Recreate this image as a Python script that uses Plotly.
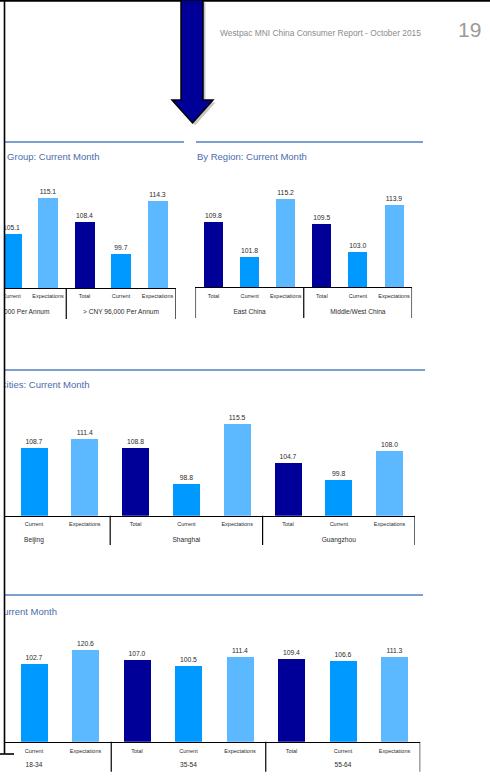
import plotly.graph_objects as go

W, H = 490, 779

# ---------------- data ----------------
income_title = "By Income Group: Current Month"
income_categories = ["Total", "Current", "Expectations", "Total", "Current", "Expectations"]
income_values = [None, 105.1, 115.1, 108.4, 99.7, 114.3]
income_groups = ["< CNY 96,000 Per Annum", "> CNY 96,000 Per Annum"]

region_title = "By Region: Current Month"
region_categories = ["Total", "Current", "Expectations", "Total", "Current", "Expectations"]
region_values = [109.8, 101.8, 115.2, 109.5, 103.0, 113.9]
region_groups = ["East China", "Middle/West China"]

city_title = "By Tier 1 Cities: Current Month"
city_categories = ["Total", "Current", "Expectations"] * 3
city_values = [None, 108.7, 111.4, 108.8, 98.8, 115.5, 104.7, 99.8, 108.0]
city_groups = ["Beijing", "Shanghai", "Guangzhou"]

age_title = "By Age Group: Current Month"
age_categories = ["Total", "Current", "Expectations"] * 3
age_values = [None, 102.7, 120.6, 107.0, 100.5, 111.4, 109.4, 106.6, 111.3]
age_groups = ["18-34", "35-54", "55-64"]

header_text = "Westpac MNI China Consumer Report - October 2015"
page_number = "19"

# ---------------- styles ----------------
COLORS = {"Total": "#000099", "Current": "#0099FF", "Expectations": "#5CB8FF"}
NARROW = "Liberation Sans Narrow, Arial Narrow, Liberation Sans, sans-serif"
SANS = "Liberation Sans, Arial, sans-serif"
TITLE_COLOR = "#4a6cad"
RULE_COLOR = "#4f7fbf"
LABEL_COLOR = "#2b2b2b"


def fx(x):
    return x / W


def fy(y):
    return 1 - y / H


# pixel layout of each panel
panels = [
    dict(cats=income_categories, vals=income_values, groups=income_groups, title=income_title,
         c0=-25.0, step=36.5, left=5, right=175.75, base=288, top=172, ymin=90.4, scale=3.64,
         bar_w=20, rule=(5, 184, 142), title_y=158, title_px=99.5, title_side="end",
         tick_y=297, group_y=312.5, sep_bottom=319, text_top=148, text_bottom=322),
    dict(cats=region_categories, vals=region_values, groups=region_groups, title=region_title,
         c0=213.5, step=36.1, left=195.45, right=412.05, base=287, top=172, ymin=94.9, scale=4.33,
         bar_w=19, rule=(196, 423, 142), title_y=158, title_px=197, title_side="start",
         tick_y=297, group_y=312, sep_bottom=318, text_top=148, text_bottom=322),
    dict(cats=city_categories, vals=city_values, groups=city_groups, title=city_title,
         c0=-16.8, step=50.8, left=5, right=415, base=515.7, top=400, ymin=89.9, scale=3.575,
         bar_w=27, rule=(5, 425, 370), title_y=386, title_px=89.5, title_side="end",
         tick_y=524.3, group_y=540, sep_bottom=545, text_top=376, text_bottom=550),
    dict(cats=age_categories, vals=age_values, groups=age_groups, title=age_title,
         c0=-17.5, step=51.5, left=5, right=420.25, base=741.7, top=625, ymin=3.0, scale=0.781,
         bar_w=27, rule=(5, 423, 595), title_y=613, title_px=57, title_side="end",
         tick_y=751.7, group_y=765.7, sep_bottom=771.7, text_top=603, text_bottom=779),
]

fig = go.Figure()
layout = dict(
    width=W, height=H, margin=dict(l=0, r=0, t=0, b=0),
    paper_bgcolor="white", plot_bgcolor="rgba(0,0,0,0)", showlegend=False,
    bargap=0, font=dict(family=NARROW, color=LABEL_COLOR),
)
shapes = []
annotations = []

for k, p in enumerate(panels):
    n = len(p["cats"])
    ax = 2 * k + 1
    lx = 2 * k + 2
    xr = [(p["left"] - p["c0"]) / p["step"], (p["right"] - p["c0"]) / p["step"]]
    dom_x = [fx(p["left"]), fx(p["right"])]
    ymax = p["ymin"] + (p["base"] - p["top"]) / p["scale"]
    layout[f"xaxis{ax}"] = dict(domain=dom_x, range=xr, anchor=f"y{ax}", showline=True,
                                linecolor="black", linewidth=1.3, showgrid=False, zeroline=False,
                                showticklabels=False, ticks="", fixedrange=True)
    layout[f"yaxis{ax}"] = dict(domain=[fy(p["base"]), fy(p["top"])], range=[p["ymin"], ymax],
                                anchor=f"x{ax}", visible=False, fixedrange=True)
    layout[f"xaxis{lx}"] = dict(domain=dom_x, range=xr, anchor=f"y{lx}", visible=False, fixedrange=True)
    layout[f"yaxis{lx}"] = dict(domain=[fy(p["text_bottom"]), fy(p["text_top"])],
                                range=[p["text_bottom"], p["text_top"]], anchor=f"x{lx}",
                                visible=False, fixedrange=True)
    idx = list(range(n))
    fig.add_trace(go.Bar(
        x=idx, y=p["vals"], xaxis=f"x{ax}", yaxis=f"y{ax}",
        width=p["bar_w"] / p["step"],
        marker=dict(color=[COLORS[c] for c in p["cats"]], line=dict(width=0)),
        text=[("" if v is None else f"{v:.1f}") for v in p["vals"]],
        textposition="outside", cliponaxis=True,
        textfont=dict(family=NARROW, size=6.8, color=LABEL_COLOR),
        hoverinfo="skip",
    ))
    # category tick labels
    fig.add_trace(go.Scatter(
        x=idx, y=[p["tick_y"]] * n, text=p["cats"], mode="text", textposition="middle center",
        xaxis=f"x{lx}", yaxis=f"y{lx}", cliponaxis=True, hoverinfo="skip",
        textfont=dict(family=NARROW, size=5.5, color=LABEL_COLOR),
    ))
    # group labels
    gsize = n // len(p["groups"])
    gx = [g * gsize + (gsize - 1) / 2 for g in range(len(p["groups"]))]
    fig.add_trace(go.Scatter(
        x=gx, y=[p["group_y"]] * len(gx), text=p["groups"], mode="text", textposition="middle center",
        xaxis=f"x{lx}", yaxis=f"y{lx}", cliponaxis=True, hoverinfo="skip",
        textfont=dict(family=NARROW, size=6.6, color=LABEL_COLOR),
    ))
    # panel title
    tx = (p["title_px"] - p["c0"]) / p["step"]
    fig.add_trace(go.Scatter(
        x=[tx], y=[p["title_y"]], text=[p["title"]], mode="text",
        textposition="middle left" if p["title_side"] == "end" else "middle right",
        xaxis=f"x{lx}", yaxis=f"y{lx}", cliponaxis=True, hoverinfo="skip",
        textfont=dict(family=SANS, size=9.5, color=TITLE_COLOR),
    ))
    # group separators
    for g in range(len(p["groups"]) + 1):
        b = g * gsize - 0.5
        if xr[0] - 1e-6 <= b <= xr[1] + 1e-6:
            shapes.append(dict(type="line", xref=f"x{ax}", yref="paper", x0=b, x1=b,
                               y0=fy(p["base"]), y1=fy(p["sep_bottom"]),
                               line=dict(color="black", width=1.2)))
    # blue rule above panel
    r0, r1, ry = p["rule"]
    shapes.append(dict(type="line", xref="paper", yref="paper", x0=fx(r0), x1=fx(r1),
                       y0=fy(ry), y1=fy(ry), line=dict(color=RULE_COLOR, width=1.3)))

# frame of the screenshot crop
shapes += [
    dict(type="line", xref="paper", yref="paper", x0=0, x1=1, y0=fy(0.8), y1=fy(0.8),
         line=dict(color="black", width=2)),
    dict(type="line", xref="paper", yref="paper", x0=fx(4.5), x1=fx(4.5), y0=fy(0), y1=fy(754),
         line=dict(color="black", width=1.6)),
    dict(type="line", xref="paper", yref="paper", x0=fx(0), x1=fx(14), y0=fy(754), y1=fy(754),
         line=dict(color="black", width=1.6)),
]

# arrow (with soft shadow)
arrow_pts = [(181, 0), (203, 0), (203, 100), (213, 100), (192.5, 123), (172, 100), (181, 100)]


def path_of(pts, dx=0, dy=0):
    return "M " + " L ".join(f"{fx(x + dx):.5f},{fy(y + dy):.5f}" for x, y in pts) + " Z"


shapes.append(dict(type="path", xref="paper", yref="paper", path=path_of(arrow_pts, 2.5, 2.5),
                   fillcolor="rgba(0,0,0,0.22)", line=dict(width=0)))
shapes.append(dict(type="path", xref="paper", yref="paper", path=path_of(arrow_pts),
                   fillcolor="#000099", line=dict(color="black", width=1.5)))

annotations += [
    dict(text=header_text, x=fx(218), y=fy(33), xref="paper", yref="paper", xanchor="left",
         yanchor="middle", showarrow=False, font=dict(family=SANS, size=8.4, color="#8c8c8c")),
    dict(text=page_number, x=fx(469), y=fy(30), xref="paper", yref="paper", xanchor="center",
         yanchor="middle", showarrow=False, font=dict(family=SANS, size=21, color="#9a9a9a")),
]

layout["shapes"] = shapes
layout["annotations"] = annotations
fig.update_layout(**layout)
fig.write_html("out.html", config={"displayModeBar": False, "staticPlot": True},
               post_script="document.body.style.margin='0px';")
